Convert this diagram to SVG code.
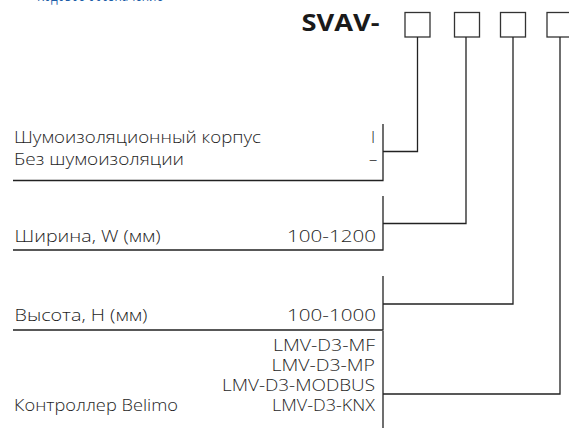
<svg xmlns="http://www.w3.org/2000/svg" width="569" height="428" viewBox="0 0 569 428">
<style>
.t{font-family:"Open Sans","Liberation Sans",sans-serif;font-size:16.5px;font-weight:300;fill:#1e1e1e}
.s{font-size:15.5px}
.h{font-family:"Open Sans","Liberation Sans",sans-serif;font-size:20px;fill:#1d5ea8}
.b{font-family:"Open Sans","Liberation Sans",sans-serif;font-size:24px;font-weight:bold;fill:#1a1a1a}
.box{fill:#fff;stroke:#333;stroke-width:1.3}
.ln{fill:none;stroke:#222;stroke-width:1.3}
</style>
<rect width="569" height="428" fill="#fff"/>
<g id="heading"><text class="h" x="37" y="0.5" textLength="126" lengthAdjust="spacingAndGlyphs">Кодовое обозначение</text></g>
<g id="code">
<text class="b" x="301.5" y="31" textLength="78" lengthAdjust="spacingAndGlyphs">SVAV-</text>
<rect id="box1" class="box" x="405" y="12.5" width="25" height="24.5"/>
<rect id="box2" class="box" x="454.5" y="12.5" width="25" height="24.5"/>
<rect id="box3" class="box" x="500.5" y="12.5" width="25" height="24.5"/>
<rect id="box4" class="box" x="547" y="12.5" width="25" height="24.5"/>
</g>
<g id="insulation">
<text class="t" x="14" y="143" textLength="247" lengthAdjust="spacingAndGlyphs">Шумоизоляционный корпус</text>
<text class="t" x="371" y="143">I</text>
<text class="t" x="14" y="165" textLength="170" lengthAdjust="spacingAndGlyphs">Без шумоизоляции</text>
<text class="t" x="369" y="165">–</text>
</g>
<g id="width">
<text class="t" x="14.5" y="242" textLength="146" lengthAdjust="spacingAndGlyphs">Ширина, W (мм)</text>
<text class="t" x="287" y="242" textLength="89" lengthAdjust="spacingAndGlyphs">100-1200</text>
</g>
<g id="height">
<text class="t" x="14.5" y="321" textLength="133" lengthAdjust="spacingAndGlyphs">Высота, H (мм)</text>
<text class="t" x="287" y="321" textLength="89" lengthAdjust="spacingAndGlyphs">100-1000</text>
</g>
<g id="controller">
<text class="t s" x="273" y="351" textLength="102" lengthAdjust="spacingAndGlyphs">LMV-D3-MF</text>
<text class="t s" x="271.5" y="371" textLength="103.5" lengthAdjust="spacingAndGlyphs">LMV-D3-MP</text>
<text class="t s" x="222" y="391" textLength="153" lengthAdjust="spacingAndGlyphs">LMV-D3-MODBUS</text>
<text class="t s" x="272" y="411" textLength="103" lengthAdjust="spacingAndGlyphs">LMV-D3-KNX</text>
<text class="t" x="14" y="411" textLength="164" lengthAdjust="spacingAndGlyphs">Контроллер Belimo</text>
</g>
<g id="connectors" class="ln">
<path class="ln" d="M417.5 37V151.5H383M383 124V180.5M13 180.5H383.6"/>
<path class="ln" d="M466 37V223.5H383M383 196V250M13 250H383.6"/>
<path class="ln" d="M513 37V304H383M383 276V330M13 330H383.6"/>
<path class="ln" d="M560 37V394H383M383 331V428"/>
</g>
</svg>
